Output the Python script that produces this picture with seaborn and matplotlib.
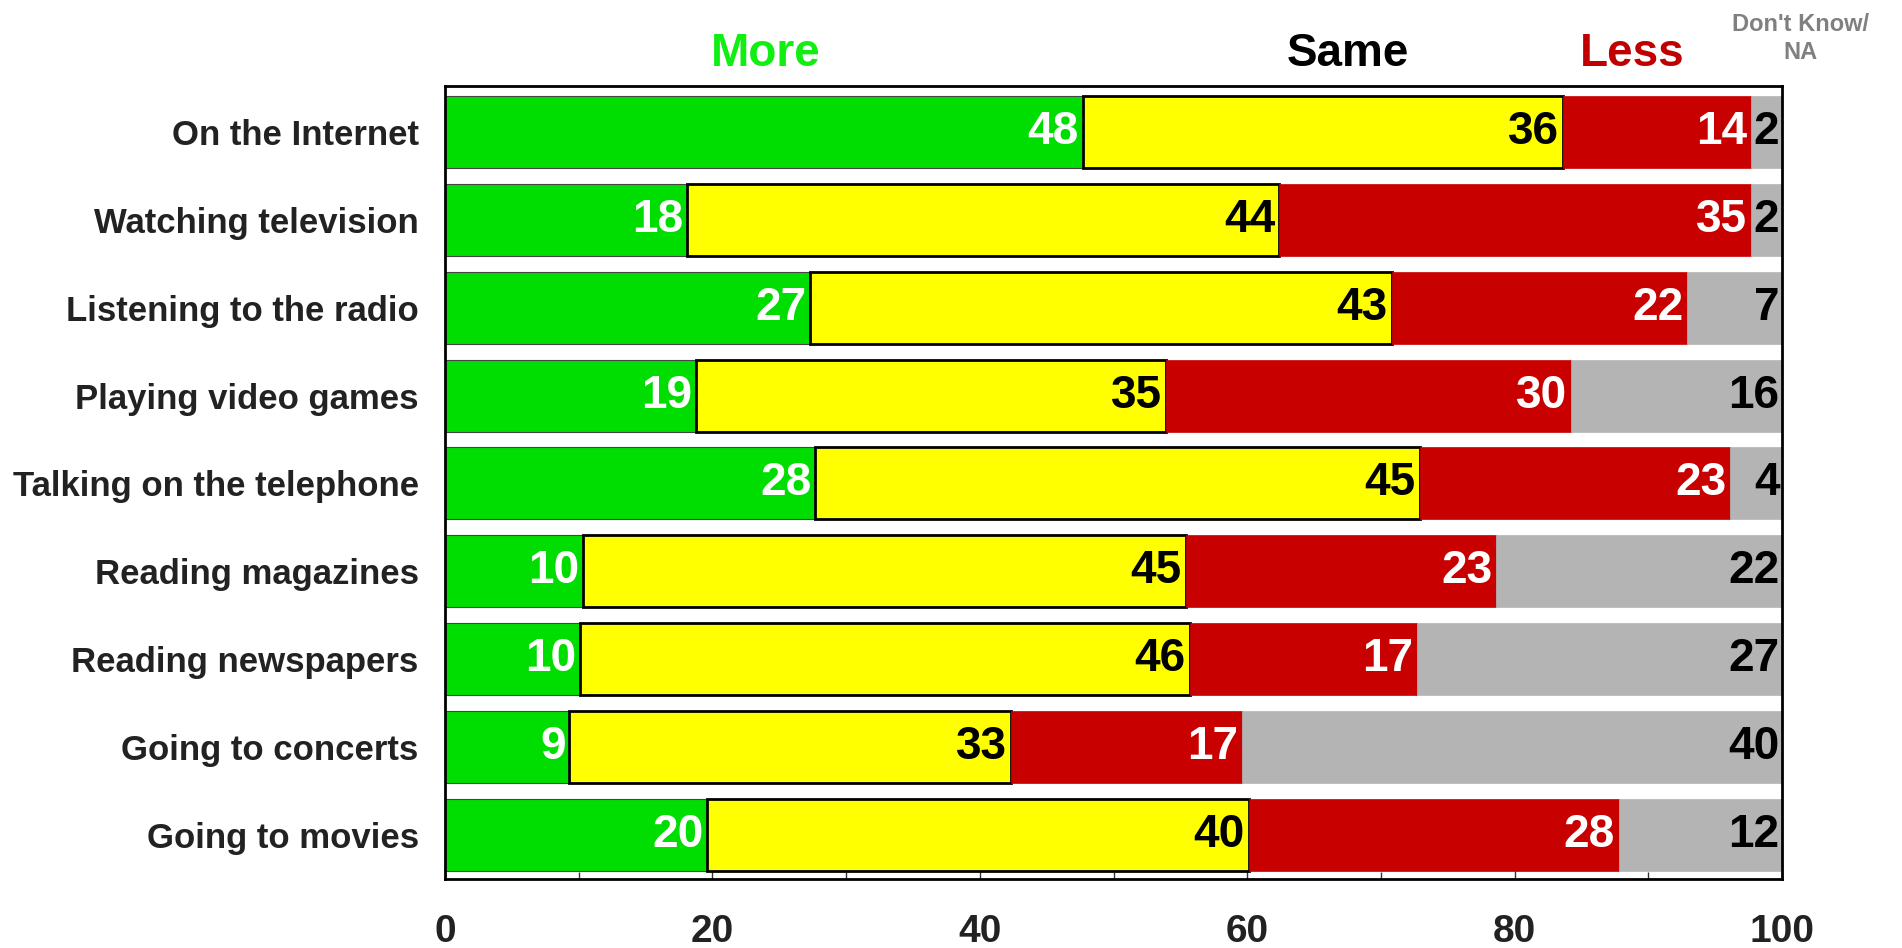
import matplotlib
matplotlib.use('Agg')
import matplotlib.pyplot as plt
import matplotlib.transforms as mtransforms
import seaborn as sns
import pandas as pd

categories = ['On the Internet', 'Watching television', 'Listening to the radio',
              'Playing video games', 'Talking on the telephone', 'Reading magazines',
              'Reading newspapers', 'Going to concerts', 'Going to movies']

# segment widths
more = [47.7, 18.1, 27.3, 18.8, 27.7, 10.3, 10.1, 9.3, 19.6]
same = [35.9, 44.3, 43.5, 35.1, 45.2, 45.1, 45.6, 33.0, 40.5]
less = [14.1, 35.3, 22.1, 30.3, 23.2, 23.2, 17.0, 17.3, 27.7]
dk = [2.3, 2.3, 7.1, 15.8, 3.9, 21.4, 27.3, 40.4, 12.2]

# printed numbers
more_lbl = [48, 18, 27, 19, 28, 10, 10, 9, 20]
same_lbl = [36, 44, 43, 35, 45, 45, 46, 33, 40]
less_lbl = [14, 35, 22, 30, 23, 23, 17, 17, 28]
dk_lbl = [2, 2, 7, 16, 4, 22, 27, 40, 12]

sns.set_style('white')
plt.rcParams['font.family'] = ['Liberation Sans', 'DejaVu Sans']
plt.rcParams['font.weight'] = 'bold'

fig = plt.figure(figsize=(19.02, 9.48), dpi=100)
ax = fig.add_axes([0.234, 0.073, 0.703, 0.836])

segments = [
    ('More', more, more_lbl, '#00dd00', '#444444', 0.8, 'white'),
    ('Same', same, same_lbl, '#ffff00', 'black', 2.0, 'black'),
    ('Less', less, less_lbl, '#c80000', '#c80000', 0.5, 'white'),
    ('DK', dk, dk_lbl, '#b4b4b4', '#b4b4b4', 0.5, 'black'),
]

lefts = [0.0] * len(categories)
for name, vals, lbls, color, ec, lw, tcolor in segments:
    df = pd.DataFrame({'cat': categories, 'val': vals})
    n0 = len(ax.patches)
    sns.barplot(data=df, x='val', y='cat', orient='h', color=color,
                width=0.82, edgecolor=ec, linewidth=lw, saturation=1,
                ax=ax, errorbar=None)
    new = ax.patches[n0:]
    for p, left, v, lb in zip(new, lefts, vals, lbls):
        p.set_x(left)
        yc = p.get_y() + p.get_height() / 2
        end = left + v
        xt = end - 0.3 if name != 'DK' else 99.8
        ax.text(xt, yc, str(lb), ha='right', va='center', color=tcolor,
                fontsize=33, fontweight='bold')
    lefts = [l + v for l, v in zip(lefts, vals)]

ax.set_xlim(0, 100)
ax.set_ylim(8.5, -0.52)
ax.set_xlabel('')
ax.set_ylabel('')
ax.set_xticks([0, 20, 40, 60, 80, 100])
ax.set_xticks([10, 30, 50, 70, 90], minor=True)
ax.tick_params(axis='x', which='major', direction='in', length=12, width=1,
               color='#333333', pad=25, labelsize=28, labelcolor='#222222',
               bottom=True)
ax.tick_params(axis='x', which='minor', direction='in', length=5, width=1,
               color='#333333', bottom=True)
ax.tick_params(axis='y', length=0, pad=19, labelsize=25, labelcolor='#222222')
for lab in ax.get_xticklabels() + ax.get_yticklabels():
    lab.set_fontweight('bold')
for s in ax.spines.values():
    s.set_visible(True)
    s.set_color('black')
    s.set_linewidth(2)

trans = mtransforms.blended_transform_factory(ax.transData, ax.transAxes)
ax.text(24.0, 1.041, 'More', transform=trans, ha='center', va='center',
        color='#11ee11', fontsize=33, fontweight='bold')
ax.text(67.5, 1.041, 'Same', transform=trans, ha='center', va='center',
        color='black', fontsize=33, fontweight='bold')
ax.text(88.8, 1.041, 'Less', transform=trans, ha='center', va='center',
        color='#c00000', fontsize=33, fontweight='bold')
ax.text(101.4, 1.060, "Don't Know/\nNA", transform=trans, ha='center', va='center',
        color='#808080', fontsize=17, fontweight='bold', linespacing=1.3)

plt.savefig('out.png', dpi=100)
